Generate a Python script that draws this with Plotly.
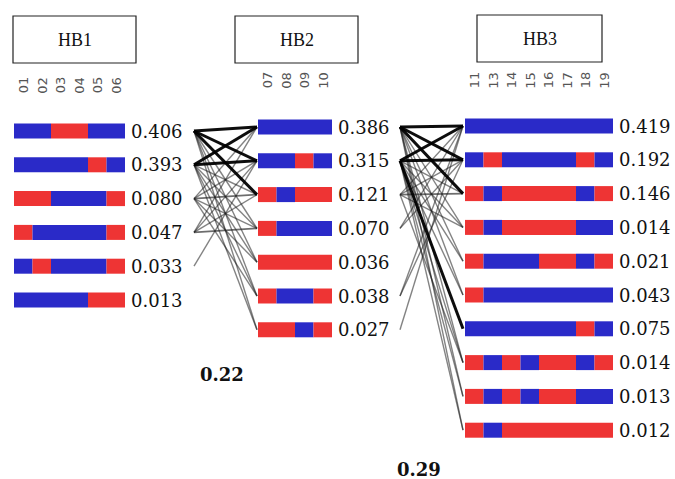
import plotly.graph_objects as go

# ---------------- data ----------------
block_names = ["HB1", "HB2", "HB3"]

hb1_snps = ["01", "02", "03", "04", "05", "06"]
hb1_haps = ["BBRRBB", "BBBBRB", "RRBBBR", "RBBBBR", "BRBBBR", "BBBBRR"]
hb1_freqs = ["0.406", "0.393", "0.080", "0.047", "0.033", "0.013"]

hb2_snps = ["07", "08", "09", "10"]
hb2_haps = ["BBBB", "BBRB", "RBRR", "RBBB", "RRRR", "RBBR", "RRBR"]
hb2_freqs = ["0.386", "0.315", "0.121", "0.070", "0.036", "0.038", "0.027"]

hb3_snps = ["11", "13", "14", "15", "16", "17", "18", "19"]
hb3_haps = ["BBBBBBBB", "BRBBBBRB", "RBRRRRBR", "RBRRRRBB", "RBBBRRBR",
            "RBBBBBBB", "BBBBBBRB", "RBRBRRBR", "RBRBRRBB", "RBRRRRRR"]
hb3_freqs = ["0.419", "0.192", "0.146", "0.014", "0.021",
             "0.043", "0.075", "0.014", "0.013", "0.012"]

# links between consecutive blocks: (source row, target row, strength 1..3)
links_12 = [(1, 1, 3), (1, 2, 3), (2, 1, 3), (2, 2, 3), (1, 3, 3),
            (3, 3, 2), (4, 4, 2),
            (1, 4, 1), (1, 5, 1), (1, 6, 1), (1, 7, 1),
            (2, 3, 1), (2, 4, 1), (2, 5, 1), (2, 6, 1), (2, 7, 1),
            (3, 1, 1), (3, 2, 1), (3, 4, 1), (3, 5, 1), (3, 6, 1),
            (4, 1, 1), (4, 2, 1), (4, 3, 1), (5, 2, 1)]
links_23 = [(1, 1, 3), (1, 2, 3), (2, 1, 3), (2, 2, 3), (1, 3, 3), (2, 7, 3),
            (3, 3, 2),
            (1, 4, 1), (1, 5, 1), (1, 6, 1), (1, 8, 1), (1, 9, 1), (1, 10, 1),
            (2, 3, 1), (2, 4, 1), (2, 5, 1), (2, 6, 1), (2, 8, 1), (2, 9, 1), (2, 10, 1),
            (3, 1, 1), (3, 2, 1), (3, 4, 1), (3, 8, 1),
            (4, 1, 1), (4, 2, 1), (6, 1, 1), (6, 2, 1), (7, 1, 1)]

multiallelic_d = ["0.22", "0.29"]

# ---------------- layout geometry ----------------
SEG = 18.5
BAR_H = 15
ROW_GAP = 33.8
blocks = [
    dict(name=block_names[0], snps=hb1_snps, haps=hb1_haps, freqs=hb1_freqs,
         x0=14, y0=131, box=(13, 16, 136, 63), snp_y=85),
    dict(name=block_names[1], snps=hb2_snps, haps=hb2_haps, freqs=hb2_freqs,
         x0=258, y0=127, box=(235, 16, 358, 63), snp_y=80),
    dict(name=block_names[2], snps=hb3_snps, haps=hb3_haps, freqs=hb3_freqs,
         x0=465, y0=126, box=(477, 15, 602, 62), snp_y=80),
]
link_x = [(194, 257), (400, 463)]
COL = {"B": "#2a2ac8", "R": "#ee3434"}

fig = go.Figure()
shapes = []
annotations = []

def row_y(b, i):
    return b["y0"] + i * ROW_GAP

def runs(hap):
    out = []
    start = 0
    for j in range(1, len(hap) + 1):
        if j == len(hap) or hap[j] != hap[start]:
            out.append((start, j, hap[start]))
            start = j
    return out

# links
style = {3: ("rgba(0,0,0,0.95)", 3.0), 2: ("rgba(30,30,30,0.65)", 1.8),
         1: ("rgba(30,30,30,0.55)", 1.4)}
for k, links in enumerate([links_12, links_23]):
    bs, bt = blocks[k], blocks[k + 1]
    xs, xt = link_x[k]
    for strength in (1, 2, 3):
        for s, t, w in links:
            if w != strength:
                continue
            c, lw = style[w]
            fig.add_trace(go.Scatter(
                x=[xs, xt], y=[row_y(bs, s - 1), row_y(bt, t - 1)],
                mode="lines", line=dict(color=c, width=lw),
                hoverinfo="skip", showlegend=False))

# haplotype bars
for b in blocks:
    for i, hap in enumerate(b["haps"]):
        y = row_y(b, i)
        for j0, j1, a in runs(hap):
            shapes.append(dict(type="rect", xref="x", yref="y",
                               x0=b["x0"] + j0 * SEG, x1=b["x0"] + j1 * SEG,
                               y0=y - BAR_H / 2, y1=y + BAR_H / 2,
                               fillcolor=COL[a], line=dict(width=0)))
        annotations.append(dict(x=b["x0"] + len(hap) * SEG + 4, y=y, xref="x", yref="y",
                                text=b["freqs"][i], showarrow=False, xanchor="left",
                                yanchor="middle",
                                font=dict(family="DejaVu Serif", size=18, color="#111")))
    for j, s in enumerate(b["snps"]):
        annotations.append(dict(x=b["x0"] + (j + 0.5) * SEG, y=b["snp_y"], xref="x", yref="y",
                                text=s, textangle=-90, showarrow=False,
                                font=dict(family="DejaVu Sans", size=13, color="#555")))
    x0, y0, x1, y1 = b["box"]
    shapes.append(dict(type="rect", xref="x", yref="y", x0=x0, x1=x1, y0=y0, y1=y1,
                       line=dict(color="#222", width=1.2), fillcolor="white"))
    annotations.append(dict(x=(x0 + x1) / 2, y=(y0 + y1) / 2, xref="x", yref="y",
                            text=b["name"], showarrow=False,
                            font=dict(family="Liberation Serif", size=18, color="#111")))

for txt, (x, y) in zip(multiallelic_d, [(222, 374), (419, 469)]):
    annotations.append(dict(x=x, y=y, xref="x", yref="y", text="<b>%s</b>" % txt,
                            showarrow=False,
                            font=dict(family="DejaVu Serif", size=18, color="#111")))

fig.update_layout(
    width=675, height=479, margin=dict(l=0, r=0, t=0, b=0),
    paper_bgcolor="white", plot_bgcolor="white",
    xaxis=dict(range=[0, 675], visible=False, fixedrange=True),
    yaxis=dict(range=[479, 0], visible=False, fixedrange=True),
    shapes=shapes, annotations=annotations, showlegend=False,
)
fig.write_html("out.html", config={"displayModeBar": False},
               post_script="document.body.style.margin='0';document.body.style.overflow='hidden';")
